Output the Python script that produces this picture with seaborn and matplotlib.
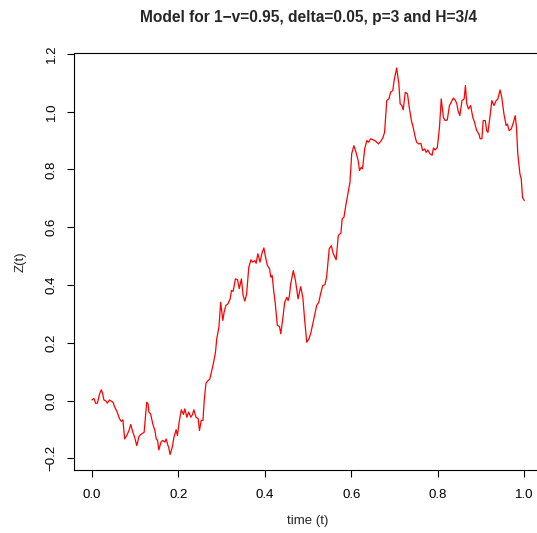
import matplotlib
matplotlib.use("Agg")
import matplotlib.pyplot as plt
import seaborn as sns
import pandas as pd

# path, time (t) and Z(t)
time_t = [
    0.000, 0.005, 0.009, 0.013, 0.018, 0.022, 0.025, 0.028, 0.033, 0.036,
    0.041, 0.045, 0.049, 0.053, 0.058, 0.064, 0.068, 0.072, 0.076, 0.081,
    0.086, 0.090, 0.095, 0.099, 0.104, 0.109, 0.113, 0.118, 0.121, 0.124,
    0.127, 0.130, 0.132, 0.136, 0.141, 0.146, 0.149, 0.152, 0.155, 0.160,
    0.164, 0.169, 0.172, 0.175, 0.178, 0.181, 0.186, 0.190, 0.195, 0.198,
    0.202, 0.207, 0.212, 0.215, 0.220, 0.224, 0.229, 0.233, 0.236, 0.241,
    0.246, 0.249, 0.253, 0.257, 0.260, 0.264, 0.269, 0.273, 0.276, 0.281,
    0.286, 0.289, 0.294, 0.298, 0.303, 0.306, 0.310, 0.315, 0.320, 0.323,
    0.327, 0.332, 0.337, 0.341, 0.346, 0.350, 0.354, 0.358, 0.363, 0.368,
    0.372, 0.377, 0.380, 0.384, 0.389, 0.394, 0.398, 0.401, 0.406, 0.411,
    0.414, 0.417, 0.421, 0.424, 0.429, 0.434, 0.437, 0.442, 0.446, 0.451,
    0.454, 0.457, 0.460, 0.466, 0.471, 0.477, 0.483, 0.488, 0.492, 0.497,
    0.502, 0.506, 0.511, 0.515, 0.520, 0.525, 0.529, 0.534, 0.539, 0.543,
    0.549, 0.554, 0.558, 0.565, 0.570, 0.576, 0.579, 0.583, 0.588, 0.593,
    0.597, 0.601, 0.606, 0.611, 0.616, 0.619, 0.623, 0.626, 0.631, 0.636,
    0.640, 0.645, 0.651, 0.657, 0.663, 0.668, 0.673, 0.677, 0.682, 0.687,
    0.691, 0.696, 0.699, 0.705, 0.710, 0.713, 0.717, 0.720, 0.725, 0.730,
    0.734, 0.739, 0.743, 0.748, 0.751, 0.756, 0.761, 0.765, 0.770, 0.773,
    0.777, 0.782, 0.787, 0.790, 0.794, 0.799, 0.804, 0.808, 0.813, 0.817,
    0.822, 0.827, 0.831, 0.836, 0.841, 0.844, 0.847, 0.851, 0.856, 0.861,
    0.864, 0.867, 0.871, 0.876, 0.881, 0.885, 0.890, 0.895, 0.898, 0.902,
    0.905, 0.910, 0.913, 0.916, 0.921, 0.925, 0.930, 0.935, 0.939, 0.944,
    0.948, 0.953, 0.958, 0.961, 0.965, 0.970, 0.975, 0.979, 0.982, 0.985,
    0.990, 0.993, 0.996, 1.000,
]
z_t = [
    0.002, 0.007, -0.010, -0.009, 0.023, 0.037, 0.025, 0.002, -0.002, -0.009,
    0.002, -0.002, -0.006, -0.023, -0.037, -0.063, -0.072, -0.067, -0.133, -0.121,
    -0.104, -0.083, -0.110, -0.127, -0.156, -0.125, -0.118, -0.113, -0.110, -0.058,
    -0.006, -0.011, -0.040, -0.046, -0.081, -0.104, -0.133, -0.138, -0.171, -0.144,
    -0.138, -0.144, -0.133, -0.150, -0.164, -0.187, -0.162, -0.127, -0.101, -0.121,
    -0.075, -0.032, -0.048, -0.029, -0.058, -0.040, -0.058, -0.048, -0.032, -0.058,
    -0.063, -0.104, -0.069, -0.069, 0.000, 0.060, 0.069, 0.075, 0.094, 0.127,
    0.167, 0.214, 0.254, 0.340, 0.277, 0.306, 0.329, 0.335, 0.352, 0.381,
    0.378, 0.421, 0.418, 0.387, 0.421, 0.363, 0.344, 0.369, 0.461, 0.487,
    0.479, 0.484, 0.475, 0.508, 0.479, 0.513, 0.528, 0.502, 0.467, 0.456,
    0.427, 0.433, 0.375, 0.340, 0.260, 0.256, 0.231, 0.288, 0.340, 0.357,
    0.346, 0.363, 0.404, 0.450, 0.415, 0.352, 0.394, 0.357, 0.283, 0.202,
    0.213, 0.231, 0.265, 0.294, 0.329, 0.340, 0.369, 0.398, 0.401, 0.427,
    0.525, 0.536, 0.510, 0.487, 0.571, 0.579, 0.629, 0.634, 0.681, 0.721,
    0.755, 0.854, 0.882, 0.859, 0.830, 0.796, 0.807, 0.802, 0.871, 0.900,
    0.894, 0.906, 0.902, 0.897, 0.888, 0.897, 0.909, 0.928, 1.038, 1.044,
    1.067, 1.073, 1.107, 1.151, 1.096, 1.027, 1.021, 1.006, 1.067, 1.061,
    1.015, 0.969, 0.946, 0.911, 0.894, 0.888, 0.890, 0.865, 0.871, 0.859,
    0.867, 0.854, 0.849, 0.874, 0.867, 0.876, 0.946, 1.044, 0.980, 0.969,
    0.971, 1.021, 1.032, 1.047, 1.038, 1.027, 1.003, 0.986, 1.038, 1.044,
    1.090, 1.027, 1.009, 1.021, 0.980, 0.963, 0.934, 0.923, 0.906, 0.906,
    0.969, 0.969, 0.934, 0.928, 0.986, 1.038, 1.021, 1.038, 1.044, 1.075,
    1.049, 0.992, 0.952, 0.957, 0.934, 0.940, 0.963, 0.986, 0.946, 0.854,
    0.784, 0.767, 0.703, 0.692,
]
x_ticks = [0.0, 0.2, 0.4, 0.6, 0.8, 1.0]
y_ticks = [-0.2, 0.0, 0.2, 0.4, 0.6, 0.8, 1.0, 1.2]

TITLE = "Model for 1\u2212v=0.95, delta=0.05, p=3 and H=3/4"

# R base graphics look
sns.set_style("ticks")
plt.rcParams["font.family"] = ["Liberation Sans", "DejaVu Sans"]
plt.rcParams["axes.linewidth"] = 0.8
plt.rcParams["xtick.major.width"] = 0.8
plt.rcParams["ytick.major.width"] = 0.8

df = pd.DataFrame({"t": time_t, "z": z_t})

fig = plt.figure(figsize=(5.37, 5.33), dpi=100)
ax = fig.add_axes([0.1387, 0.1182, 0.8698, 0.7833])

sns.lineplot(data=df, x="t", y="z", color="#ff0000", linewidth=0.9,
             sort=False, estimator=None, ax=ax)
ax.margins(x=0.04, y=0.04)

ax.set_xticks(x_ticks)
ax.set_xticklabels([f"{v:.1f}" for v in x_ticks])
ax.set_yticks(y_ticks)
ax.set_yticklabels([f"{v:.1f}".replace("-", "\u2212") for v in y_ticks],
                   rotation=90, va="center")
ax.tick_params(axis="both", direction="out", length=5, labelsize=9.5,
               color="black", labelcolor="black")
ax.tick_params(axis="x", pad=9)
ax.tick_params(axis="y", pad=7)
for sp in ax.spines.values():
    sp.set_visible(True)
    sp.set_color("black")

ax.set_xlabel("time (t)", fontsize=9.5, labelpad=10)
ax.set_ylabel("Z(t)", fontsize=9.5, labelpad=14)
ax.set_title(TITLE, fontsize=11.2, fontweight="bold", pad=22)

fig.savefig("out.png", dpi=100)
plt.close(fig)
